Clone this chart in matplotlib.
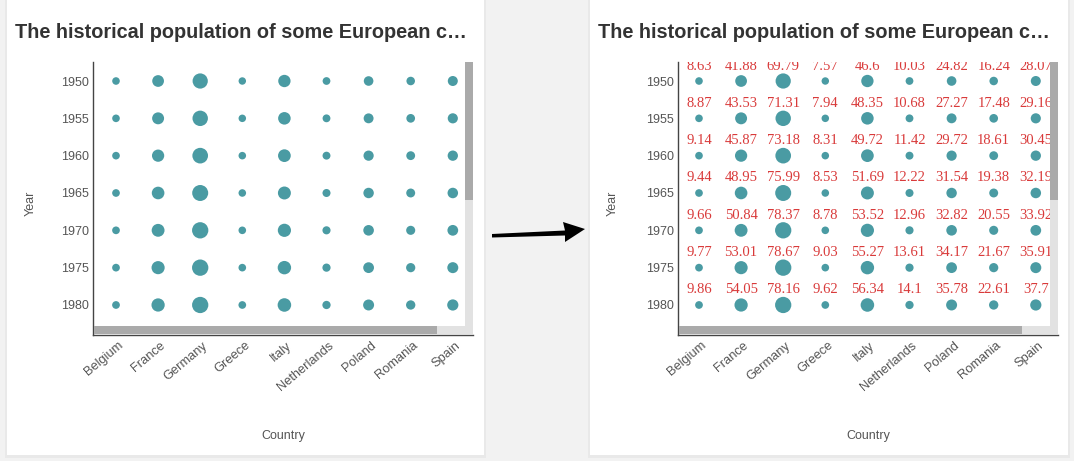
import matplotlib
matplotlib.use("Agg")
import matplotlib.pyplot as plt
from matplotlib.patches import Rectangle, Polygon
import matplotlib.transforms as mtransforms

countries = ["Belgium", "France", "Germany", "Greece", "Italy", "Netherlands", "Poland", "Romania", "Spain"]
years = ["1950", "1955", "1960", "1965", "1970", "1975", "1980"]
pop_1950 = [8.63, 41.88, 69.79, 7.57, 46.6, 10.03, 24.82, 16.24, 28.07]
pop_1955 = [8.87, 43.53, 71.31, 7.94, 48.35, 10.68, 27.27, 17.48, 29.16]
pop_1960 = [9.14, 45.87, 73.18, 8.31, 49.72, 11.42, 29.72, 18.61, 30.45]
pop_1965 = [9.44, 48.95, 75.99, 8.53, 51.69, 12.22, 31.54, 19.38, 32.19]
pop_1970 = [9.66, 50.84, 78.37, 8.78, 53.52, 12.96, 32.82, 20.55, 33.92]
pop_1975 = [9.77, 53.01, 78.67, 9.03, 55.27, 13.61, 34.17, 21.67, 35.91]
pop_1980 = [9.86, 54.05, 78.16, 9.62, 56.34, 14.1, 35.78, 22.61, 37.7]
rows = [pop_1950, pop_1955, pop_1960, pop_1965, pop_1970, pop_1975, pop_1980]

title = "The historical population of some European c\u2026"

W, H = 1074, 461
fig = plt.figure(figsize=(W / 100, H / 100), dpi=100)
fig.patch.set_facecolor("#f2f2f2")

def fx(px):
    return px / W

def fy(py):
    return 1 - py / H

# cards
for x0, x1 in [(7, 484), (590, 1068)]:
    fig.patches.append(Rectangle((fx(x0 - 2), fy(458)), fx(x1 - x0 + 4), 458 / H,
                                 transform=fig.transFigure, facecolor="#e9e9e9", edgecolor="none", zorder=-2))
    fig.patches.append(Rectangle((fx(x0), fy(455)), fx(x1 - x0), 455 / H,
                                 transform=fig.transFigure, facecolor="white", edgecolor="none", zorder=-1))

DOT = "#4a9ba3"
LAB = "#d93a3a"
GRAY = "#555555"

def draw_panel(ax_left, title_x, xlim_min, with_labels, ylab_x):
    ax_top, ax_bot = 62, 335
    width = 380
    ax = fig.add_axes([fx(ax_left), fy(ax_bot), fx(width), (ax_bot - ax_top) / H])
    ax.set_zorder(2)
    ax.set_facecolor("white")
    xs, ys, ss = [], [], []
    for j, row in enumerate(rows):
        for i, v in enumerate(row):
            xs.append(i)
            ys.append(j)
            d_px = 6.5 + 0.125 * v
            ss.append((d_px * 0.72) ** 2)
    ax.scatter(xs, ys, s=ss, color=DOT, edgecolors="none", zorder=3)
    ax.set_xlim(xlim_min, xlim_min + width / 42.1)
    ax.set_ylim(-0.509 + 273 / 37.33, -0.509)
    if with_labels:
        off = mtransforms.offset_copy(ax.transData, fig=fig, x=0, y=15, units="dots")
        for j, row in enumerate(rows):
            for i, v in enumerate(row):
                ax.text(i, j, f"{v:g}", transform=off, ha="center", va="center",
                        fontsize=10.5, family="Liberation Serif", color=LAB, zorder=4, clip_on=True)
    ax.set_xticks(range(len(countries)))
    ax.set_xticklabels([])
    ax.set_yticks(range(len(years)))
    ax.set_yticklabels(years, fontsize=9, family="Liberation Sans", color=GRAY)
    ax.tick_params(axis="y", length=0, pad=3)
    ax.tick_params(axis="x", length=0)
    for sp in ["top", "right"]:
        ax.spines[sp].set_visible(False)
    ax.spines["left"].set_color("#444444")
    ax.spines["bottom"].set_color("#444444")
    ax.spines["left"].set_linewidth(1)
    ax.spines["bottom"].set_linewidth(1)
    # rotated x labels
    for i, c in enumerate(countries):
        tr = mtransforms.offset_copy(ax.get_xaxis_transform(), fig=fig, x=6, y=-9, units="dots")
        ax.text(i, 0, c, transform=tr, rotation=40, rotation_mode="anchor", ha="right", va="center",
                fontsize=9.3, family="Liberation Sans", color=GRAY)
    # scrollbars (axes fraction)
    def px2ax(x0, y0, x1, y1):
        return ((x0 - ax_left) / width, (ax_bot - y1) / (ax_bot - ax_top),
                (x1 - x0) / width, (y1 - y0) / (ax_bot - ax_top))
    sx = ax_left + width
    for (x0, y0, x1, y1, col) in [
        (sx - 8, ax_top, sx, ax_bot - 1, "#e2e2e2"),
        (ax_left + 1, ax_bot - 9, sx, ax_bot - 1, "#e2e2e2"),
        (ax_left + 1, ax_bot - 9, sx - 36, ax_bot - 1, "#aaaaaa"),
        (sx - 8, ax_top, sx, 200, "#aaaaaa"),
    ]:
        a, b, c2, d = px2ax(x0, y0, x1, y1)
        ax.add_patch(Rectangle((a, b), c2, d, transform=ax.transAxes, facecolor=col,
                               edgecolor="none", zorder=6, clip_on=False))
    fig.text(fx(title_x), fy(32), title, fontsize=14.3, fontweight="bold", family="Liberation Sans",
             color="#333333", ha="left", va="center")
    fig.text(fx(ylab_x), fy(203), "Year", rotation=90, fontsize=9, family="Liberation Sans",
             color=GRAY, ha="center", va="center")
    fig.text(fx(ax_left + width / 2), fy(436), "Country", fontsize=9, family="Liberation Sans",
             color=GRAY, ha="center", va="center")
    return ax

draw_panel(93, 15, -(116 - 93) / 42.1, False, 31)
draw_panel(678, 598, -(699 - 678) / 42.1, True, 613)

# arrow
arrow = Polygon([(fx(492), fy(234)), (fx(565), fy(230.5)), (fx(563), fy(222)),
                 (fx(585), fy(229)), (fx(565), fy(242)), (fx(565), fy(235.5)),
                 (fx(492), fy(237.5))],
                closed=True, transform=fig.transFigure, facecolor="black", edgecolor="none", zorder=5)
fig.patches.append(arrow)

fig.savefig("out.png", dpi=100, facecolor=fig.get_facecolor())
